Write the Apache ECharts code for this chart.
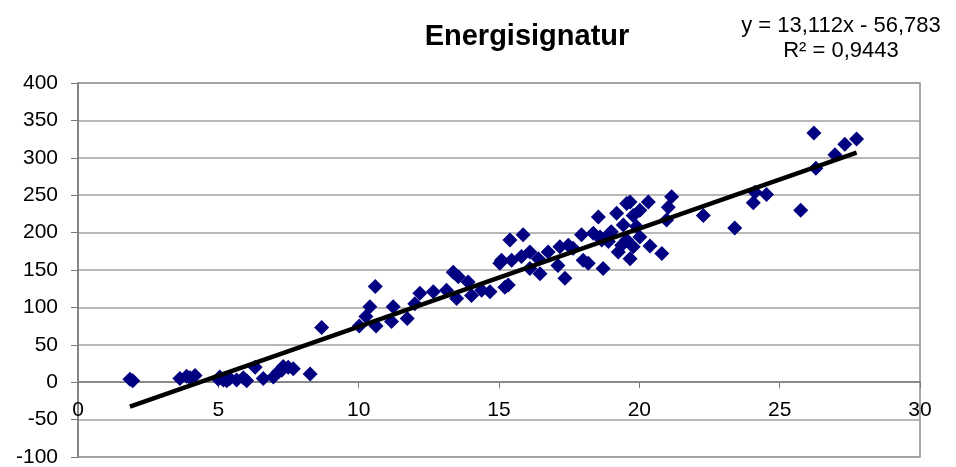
<!DOCTYPE html>
<html>
<head>
<meta charset="utf-8">
<script src="https://cdn.jsdelivr.net/npm/echarts@6/dist/echarts.min.js"></script>
<style>
  html, body { margin: 0; padding: 0; background: #fff; }
  #chart { width: 956px; height: 467px; }
</style>
</head>
<body>
<div id="chart"></div>
<script>
// Outdoor temperature difference (x) vs. energy use (y)
const xValues = [
  1.85, 1.95,
  3.63, 3.87, 3.99, 4.17,
  5.0, 5.05, 5.18, 5.3, 5.41, 5.65, 5.89, 6.01,
  6.31, 6.6,
  6.96, 7.14, 7.26, 7.31, 7.49, 7.67,
  8.27, 8.68,
  10.02, 10.26, 10.4, 10.59, 10.62,
  11.17, 11.23, 11.73, 12.0, 12.18, 12.66, 13.13,
  13.37, 13.55, 13.49, 13.9, 14.02, 14.38, 14.68,
  15.03, 15.21, 15.33, 15.09, 15.39, 15.45,
  15.86, 15.8, 16.1, 16.1, 16.46, 16.4, 16.75,
  17.1, 17.17, 17.35, 17.47, 17.64, 17.94, 18.0,
  18.18, 18.36, 18.54, 18.71, 18.66, 19.19, 19.25,
  19.55, 19.0, 19.67, 20.32, 21.15, 21.03, 20.97,
  22.28, 23.4, 20.8, 20.38, 19.67, 19.78, 19.9,
  19.43, 18.95, 18.6, 20.02, 19.55, 19.78, 19.37,
  18.9, 20.02,
  24.06, 24.12, 24.53, 25.75, 26.22, 26.29, 26.97, 27.32, 27.74
];
const yValues = [
  4, 2,
  5, 8, 6, 9,
  4, 7, 3, 2, 5, 3, 6, 2,
  20, 5,
  7, 14, 16, 21, 20, 18,
  11, 73,
  75, 88, 101, 128, 75,
  81, 101, 85, 105, 119, 121, 123,
  147, 141, 112, 134, 116, 123, 121,
  159, 127, 130, 163, 190, 163,
  197, 168, 174, 152, 145, 165, 174,
  156, 181, 139, 183, 179, 197, 163,
  159, 199, 221, 152, 190, 226, 174,
  239, 201, 241, 241, 248, 234, 217,
  223, 206, 172, 182, 165, 223, 208,
  210, 199, 194, 194, 190, 181, 183,
  188, 230,
  240, 254, 251, 230, 333, 286, 304, 318, 325
];

// Linear trend line
const slope = 13.112;
const intercept = -56.783;
const rSquared = '0,9443';
const equationText = 'y = 13,112x - 56,783';
const titleText = 'Energisignatur';

const xTicks = { min: 0, max: 30, interval: 5 };
const yTicks = { min: -100, max: 400, interval: 50 };

const points = xValues.map((x, i) => [x, yValues[i]]);
const xMin = Math.min(...xValues);
const xMax = Math.max(...xValues);
const trend = [[xMin, slope * xMin + intercept], [xMax, slope * xMax + intercept]];

const FONT = '"Liberation Sans", Arial, sans-serif';
const W = 956, H = 467;
const gridBox = { left: 78, right: 36, top: 83, bottom: 10 };
// Lift the x axis from the bottom edge up to the y = 0 line
const plotHeight = H - gridBox.top - gridBox.bottom;
const xAxisLift = -plotHeight * (0 - yTicks.min) / (yTicks.max - yTicks.min);

const chart = echarts.init(document.getElementById('chart'), null, { renderer: 'canvas' });
chart.setOption({
  backgroundColor: '#ffffff',
  animation: false,
  title: {
    text: titleText,
    left: 522,
    top: 17,
    textAlign: 'center',
    textStyle: { fontFamily: FONT, fontSize: 29, fontWeight: 'bold', color: '#000' }
  },
  graphic: [
    {
      type: 'text',
      x: 841, y: 26,
      style: { text: equationText, textAlign: 'center', textVerticalAlign: 'middle',
               font: '22px ' + FONT, fill: '#000' }
    },
    {
      type: 'text',
      x: 841, y: 51,
      style: { text: 'R² = ' + rSquared, textAlign: 'center', textVerticalAlign: 'middle',
               font: '22px ' + FONT, fill: '#000' }
    }
  ],
  grid: {
    left: gridBox.left, right: gridBox.right, top: gridBox.top, bottom: gridBox.bottom,
    containLabel: false,
    outerBoundsMode: 'none',
    show: true, borderColor: '#8c8c8c', borderWidth: 1.5, backgroundColor: 'transparent'
  },
  xAxis: {
    type: 'value',
    position: 'bottom',
    offset: xAxisLift,
    min: xTicks.min, max: xTicks.max, interval: xTicks.interval,
    axisLine: { show: true, onZero: false, lineStyle: { color: '#7a7a7a', width: 1.5 } },
    axisTick: { show: true, inside: false, length: 6, lineStyle: { color: '#7a7a7a' } },
    axisLabel: { fontFamily: FONT, fontSize: 21, color: '#000', margin: 18 },
    splitLine: { show: false }
  },
  yAxis: {
    type: 'value',
    min: yTicks.min, max: yTicks.max, interval: yTicks.interval,
    axisLine: { show: true, lineStyle: { color: '#7a7a7a', width: 1.5 } },
    axisTick: { show: true, length: 7, lineStyle: { color: '#7a7a7a' } },
    axisLabel: { fontFamily: FONT, fontSize: 21, color: '#000', margin: 20 },
    splitLine: { show: true, lineStyle: { color: '#a0a0a0', width: 1.5 } }
  },
  series: [
    {
      type: 'scatter',
      data: points,
      symbol: 'diamond',
      symbolSize: 15,
      itemStyle: { color: '#000080', opacity: 1 },
      z: 2
    },
    {
      type: 'line',
      data: trend,
      symbol: 'none',
      lineStyle: { color: '#000', width: 4.5 },
      z: 3
    }
  ]
});
</script>
</body>
</html>
